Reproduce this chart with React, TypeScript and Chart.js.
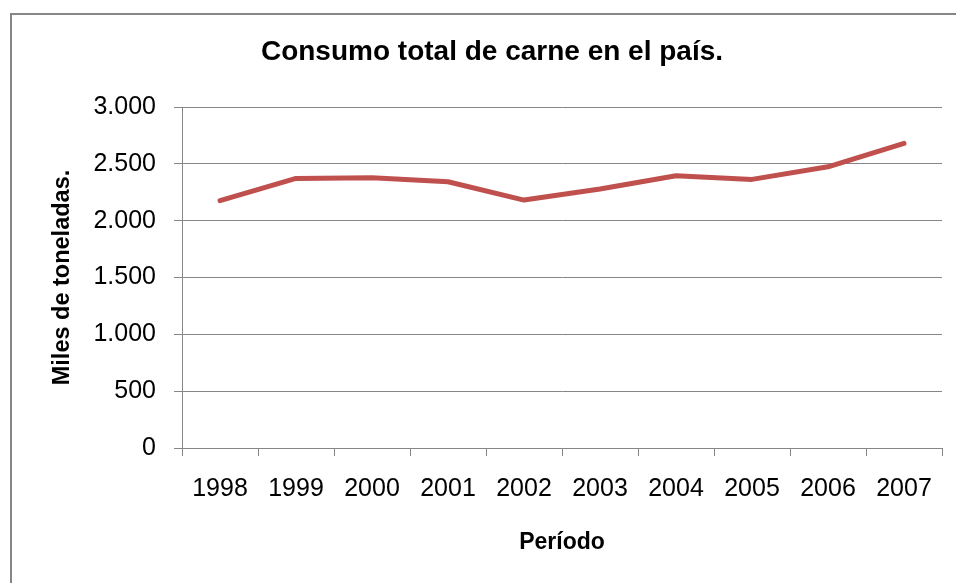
import React, { useEffect, useRef } from "react";
import { Chart, registerables } from "chart.js";

Chart.register(...registerables);

const years: string[] = ["1998", "1999", "2000", "2001", "2002", "2003", "2004", "2005", "2006", "2007"];
const consumo: number[] = [2176, 2372, 2377, 2342, 2181, 2278, 2395, 2363, 2474, 2680];
const yTicks: number[] = [0, 500, 1000, 1500, 2000, 2500, 3000];

const chartTitle = "Consumo total de carne en el país.";
const yTitle = "Miles de toneladas.";
const xTitle = "Período";

const GRAY = "#868686";
const FONT = "'Liberation Sans', Arial, sans-serif";

function fmt(v: number): string {
  return String(v).replace(/\B(?=(\d{3})+(?!\d))/g, ".");
}

export default function App() {
  const ref = useRef<HTMLCanvasElement | null>(null);

  useEffect(() => {
    if (!ref.current) return;
    const chart = new Chart(ref.current, {
      type: "line",
      data: {
        labels: years,
        datasets: [
          {
            data: consumo,
            borderColor: "#C0504D",
            backgroundColor: "#C0504D",
            borderWidth: 5,
            borderCapStyle: "round",
            borderJoinStyle: "round",
            pointRadius: 0,
            pointHoverRadius: 0,
            tension: 0,
            fill: false,
          },
        ],
      },
      options: {
        responsive: false,
        animation: false,
        devicePixelRatio: 1,
        layout: { padding: { left: 42, right: 14, top: 0, bottom: 0 } },
        plugins: {
          legend: { display: false },
          tooltip: { enabled: false },
          title: {
            display: true,
            text: chartTitle,
            color: "#000",
            font: { family: FONT, size: 28, weight: "bold" },
            padding: { top: 35.7, bottom: 37.7 },
          },
        },
        scales: {
          x: {
            type: "category",
            offset: true,
            grid: {
              offset: true,
              drawOnChartArea: false,
              drawTicks: true,
              tickLength: 8,
              color: GRAY,
              lineWidth: 1,
            },
            border: { display: true, color: GRAY, width: 1 },
            ticks: {
              color: "#000",
              font: { family: FONT, size: 25 },
              padding: 17.8,
              maxRotation: 0,
              autoSkip: false,
            },
            title: {
              display: true,
              text: xTitle,
              color: "#000",
              font: { family: FONT, size: 23, weight: "bold" },
              padding: { top: 0, bottom: 27 },
            },
            afterFit: (scale: any) => {
              scale.height = 135;
            },
          },
          y: {
            min: 0,
            max: 3000,
            afterBuildTicks: (scale: any) => {
              scale.ticks = yTicks.map((v) => ({ value: v }));
            },
            grid: {
              drawOnChartArea: true,
              drawTicks: true,
              tickLength: 8,
              color: GRAY,
              lineWidth: 1,
            },
            border: { display: true, color: GRAY, width: 1 },
            ticks: {
              color: "#000",
              font: { family: FONT, size: 25 },
              padding: 18,
              callback: (v: any) => fmt(Number(v)),
            },
            title: {
              display: true,
              text: yTitle,
              color: "#000",
              font: { family: FONT, size: 23.5, weight: "bold" },
              padding: { top: 6, bottom: 0 },
            },
            afterFit: (scale: any) => {
              scale.width = 140;
            },
          },
        },
      },
    });
    return () => chart.destroy();
  }, []);

  return (
    <div
      style={{
        position: "absolute",
        left: 0,
        top: 0,
        width: 956,
        height: 583,
        overflow: "hidden",
        background: "#fff",
      }}
    >
      <div
        style={{
          position: "absolute",
          left: 10,
          top: 13,
          width: 1000,
          height: 700,
          borderLeft: `2px solid ${GRAY}`,
          borderTop: `2px solid ${GRAY}`,
          background: "#fff",
        }}
      />
      <canvas
        ref={ref}
        width={956}
        height={583}
        style={{ position: "absolute", left: 0, top: 0, width: 956, height: 583 }}
      />
    </div>
  );
}
